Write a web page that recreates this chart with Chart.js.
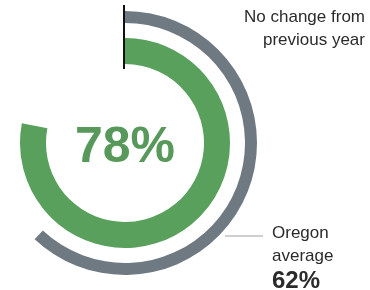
<!DOCTYPE html>
<html>
<head>
<meta charset="utf-8">
<script src="https://cdn.jsdelivr.net/npm/chart.js@4"></script>
<style>
    html, body { margin: 0; padding: 0; background: #fff; }
    body { width: 370px; height: 290px; position: relative; overflow: hidden; font-family: "Liberation Sans", Arial, sans-serif; }
    #wrap { position: absolute; left: -7px; top: 0; width: 377px; height: 290px; }
    .lbl { position: absolute; color: #2b2b2b; font-size: 17px; line-height: 23px; }
    #center { position: absolute; left: 25px; width: 200px; top: 116px; text-align: center; color: #58995b; font-weight: bold; font-size: 50px; line-height: 58px; }
</style>
</head>
<body>
<div id="wrap"><canvas id="chart"></canvas></div>
<div id="center"></div>
<div class="lbl" id="top-lbl" style="right:5px; top:5px; text-align:right;"></div>
<div class="lbl" id="avg-lbl" style="left:272px; top:221px;"></div>

<script>
// valores
const labels = ['Distrito', 'Média de Oregon'];
const districtPct = [78];
const oregonPct = [62];
const topNote = ['No change from', 'previous year'];
const avgNote = ['Oregon', 'average'];

const green = '#58a05c';
const gray = '#6e7981';

document.getElementById('center').textContent = districtPct[0] + '%';
document.getElementById('top-lbl').innerHTML = topNote.join('<br>');
document.getElementById('avg-lbl').innerHTML = avgNote.join('<br>') +
    '<br><span style="font-weight:bold;font-size:24px;line-height:26px">' + oregonPct[0] + '%</span>';

// linha vertical preta e linha cinza até o rótulo
const marcas = {
    id: 'marcas',
    afterDatasetsDraw(chart) {
        const ctx = chart.ctx;
        const arcOut = chart.getDatasetMeta(0).data[0];
        const arcIn = chart.getDatasetMeta(2).data[0];
        const cx = arcOut.x, cy = arcOut.y;
        ctx.save();
        ctx.strokeStyle = '#111';
        ctx.lineWidth = 2;
        ctx.beginPath();
        ctx.moveTo(cx - 1, cy - arcOut.outerRadius - 6);
        ctx.lineTo(cx - 1, cy - arcIn.innerRadius + 5);
        ctx.stroke();

        const yy = cy + 93;
        ctx.strokeStyle = '#cfcfcf';
        ctx.lineWidth = 2;
        ctx.beginPath();
        ctx.moveTo(cx + 100, yy);
        ctx.lineTo(cx + 138, yy);
        ctx.stroke();
        ctx.restore();
    }
};

new Chart(document.getElementById('chart'), {
    type: 'doughnut',
    data: {
        labels: labels,
        datasets: [
            {
                data: [oregonPct[0], 100 - oregonPct[0]],
                backgroundColor: [gray, 'rgba(0,0,0,0)'],
                borderWidth: 0,
                weight: 12
            },
            {
                data: [100],
                backgroundColor: ['rgba(0,0,0,0)'],
                borderWidth: 0,
                weight: 15
            },
            {
                data: [districtPct[0], 100 - districtPct[0]],
                backgroundColor: [green, 'rgba(0,0,0,0)'],
                borderWidth: 0,
                weight: 26
            }
        ]
    },
    options: {
        responsive: true,
        maintainAspectRatio: false,
        animation: false,
        cutout: 79,
        layout: { padding: { left: 0, right: 113, top: 11, bottom: 15 } },
        plugins: {
            legend: { display: false },
            tooltip: { enabled: false }
        }
    },
    plugins: [marcas]
});
</script>
</body>
</html>
